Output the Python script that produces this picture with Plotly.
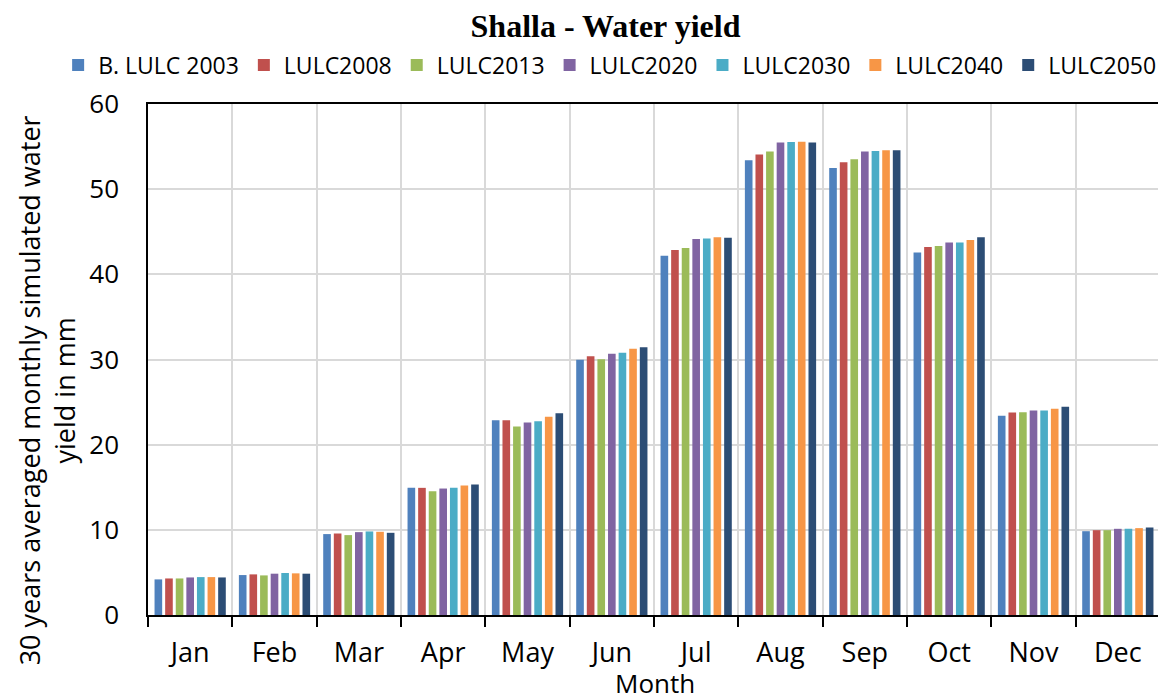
import plotly.graph_objects as go

# month categories
months = ['Jan', 'Feb', 'Mar', 'Apr', 'May', 'Jun', 'Jul', 'Aug', 'Sep', 'Oct', 'Nov', 'Dec']

# 30 years averaged monthly simulated water yield (mm)
lulc2003 = [4.18, 4.69, 9.50, 14.93, 22.86, 29.96, 42.19, 53.40, 52.49, 42.57, 23.39, 9.84]
lulc2008 = [4.29, 4.77, 9.57, 14.93, 22.86, 30.39, 42.85, 54.07, 53.16, 43.20, 23.78, 9.96]
lulc2013 = [4.29, 4.65, 9.38, 14.54, 22.12, 30.04, 43.09, 54.43, 53.52, 43.32, 23.82, 9.96]
lulc2020 = [4.41, 4.85, 9.73, 14.85, 22.59, 30.67, 44.14, 55.49, 54.43, 43.75, 24.02, 10.12]
lulc2030 = [4.45, 4.93, 9.81, 14.93, 22.75, 30.78, 44.22, 55.53, 54.47, 43.75, 24.02, 10.12]
lulc2040 = [4.45, 4.89, 9.77, 15.20, 23.29, 31.25, 44.34, 55.57, 54.58, 44.03, 24.21, 10.20]
lulc2050 = [4.41, 4.85, 9.65, 15.33, 23.69, 31.45, 44.30, 55.49, 54.58, 44.35, 24.45, 10.28]

series = [
    ('B. LULC 2003', lulc2003, '#4F81BD'),
    ('LULC2008', lulc2008, '#C0504D'),
    ('LULC2013', lulc2013, '#9BBB59'),
    ('LULC2020', lulc2020, '#8064A2'),
    ('LULC2030', lulc2030, '#4BACC6'),
    ('LULC2040', lulc2040, '#F79646'),
    ('LULC2050', lulc2050, '#2C4D75'),
]

fig = go.Figure()
for name, vals, col in series:
    fig.add_trace(go.Bar(x=months, y=vals, name=name, marker=dict(color=col, line=dict(width=0))))

# the page puts the figure 8px in from the corner, so keep it a bit smaller than the window
fig.update_layout(
    width=1158, height=692,
    paper_bgcolor='white', plot_bgcolor='white',
    barmode='group', bargap=0.12, bargroupgap=0.28,
    margin=dict(l=140, r=4, t=96, b=85),
    font=dict(family='Open Sans, Lato, sans-serif', color='black'),
    title=dict(text='<b>Shalla - Water yield</b>', xref='container', x=0.516, xanchor='center',
               yref='container', y=0.975, yanchor='middle',
               font=dict(family='Liberation Serif, serif', size=32, color='black')),
    # left-anchored just outside the plot so the single row may use the full width
    legend=dict(orientation='h', x=-0.0888, xanchor='left', y=1.076, yanchor='middle',
                bgcolor='rgba(0,0,0,0)',
                font=dict(size=23), itemwidth=30, tracegroupgap=0, traceorder='normal'),
    xaxis=dict(
        tickfont=dict(size=27), ticklabelstandoff=13,
        tickson='boundaries', ticks='outside', ticklen=10, tickcolor='black', tickwidth=1.5,
        showline=True, linecolor='black', linewidth=1.5, mirror=True,
        showgrid=True, gridcolor='#D9D9D9', gridwidth=1.5,
    ),
    yaxis=dict(
        tickfont=dict(size=26), ticklabelstandoff=22,
        range=[0, 60], dtick=10,
        showline=True, linecolor='black', linewidth=1.5, mirror=True,
        showgrid=True, gridcolor='#D9D9D9', gridwidth=1.5,
        zeroline=False,
    ),
    annotations=[
        dict(text='Month', xref='paper', yref='paper', x=0.501, y=-0.133,
             xanchor='center', yanchor='middle', showarrow=False, font=dict(size=26)),
        dict(text='30 years averaged monthly simulated water<br>yield in mm', xref='paper', yref='paper',
             x=-0.0996, y=0.44, xanchor='center', yanchor='middle', textangle=-90,
             showarrow=False, font=dict(size=27)),
    ],
)

fig.write_html('out.html')
